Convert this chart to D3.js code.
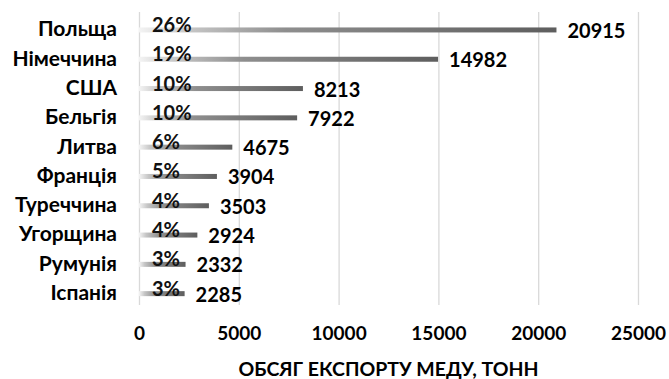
<!DOCTYPE html>
<html>
<head>
<meta charset="utf-8">
<script src="https://cdn.jsdelivr.net/npm/d3@7"></script>
<style>
  body { margin: 0; background: #fff; }
  text { font-family: Lato, "Open Sans", sans-serif; font-weight: bold; }
</style>
</head>
<body>
<svg width="669" height="379"></svg>
<script>
// data
const countries = ["Польща", "Німеччина", "США", "Бельгія", "Литва", "Франція", "Туреччина", "Угорщина", "Румунія", "Іспанія"];
const tonnes = [20915, 14982, 8213, 7922, 4675, 3904, 3503, 2924, 2332, 2285];
const shares = ["26%", "19%", "10%", "10%", "6%", "5%", "4%", "4%", "3%", "3%"];
const xTicks = [0, 5000, 10000, 15000, 20000, 25000];

const rows = countries.map(function(c, i) {
  return {name: c, value: tonnes[i], share: shares[i]};
});

const svg = d3.select('svg');

const x = d3.scaleLinear()
  .domain([0, 25000])
  .range([139, 638]);

const y = d3.scaleBand()
  .domain(countries)
  .range([15.3, 308.3]);

// bar gradient: light at the base, darker toward the end
const grad = svg.append('defs').append('linearGradient')
  .attr('id', 'barGrad')
  .attr('x1', '0%').attr('x2', '100%')
  .attr('y1', '0%').attr('y2', '0%');
grad.append('stop').attr('offset', '0%').attr('stop-color', '#f4f4f4');
grad.append('stop').attr('offset', '12%').attr('stop-color', '#c6c6c6');
grad.append('stop').attr('offset', '35%').attr('stop-color', '#8e8e8e');
grad.append('stop').attr('offset', '100%').attr('stop-color', '#5e5e5e');

// gridlines + tick labels
const xAxis = svg.append('g')
  .attr('transform', 'translate(0,305)')
  .call(d3.axisBottom(x).tickValues(xTicks).tickSize(-293).tickPadding(22).tickFormat(d3.format('d')));
xAxis.select('.domain').remove();
xAxis.selectAll('.tick line').attr('stroke', '#d9d9d9').attr('stroke-width', 1.3);
xAxis.selectAll('.tick text')
  .attr('fill', '#000')
  .style('font-size', '19px')
  .style('font-family', 'Lato, sans-serif')
  .style('font-weight', 'bold');

// bars
svg.selectAll('rect.bar')
  .data(rows)
  .enter().append('rect')
  .classed('bar', true)
  .attr('x', x(0))
  .attr('y', function(d) { return y(d.name) + y.bandwidth() / 2 - 2.5; })
  .attr('width', function(d) { return x(d.value) - x(0); })
  .attr('height', 5)
  .attr('fill', 'url(#barGrad)');

// category labels
svg.selectAll('text.cat')
  .data(rows)
  .enter().append('text')
  .classed('cat', true)
  .attr('x', 117)
  .attr('y', function(d) { return y(d.name) + y.bandwidth() / 2 - 1; })
  .attr('dy', '0.35em')
  .attr('text-anchor', 'end')
  .style('font-size', '21px')
  .attr('fill', '#000')
  .text(function(d) { return d.name; });

// share labels sitting on the bar
svg.selectAll('text.share')
  .data(rows)
  .enter().append('text')
  .classed('share', true)
  .attr('x', 152)
  .attr('y', function(d) { return y(d.name) + y.bandwidth() / 2 + 2; })
  .style('font-size', '20px')
  .attr('fill', '#111')
  .text(function(d) { return d.share; });

// value labels after the bar end
svg.selectAll('text.val')
  .data(rows)
  .enter().append('text')
  .classed('val', true)
  .attr('x', function(d) { return x(d.value) + 11; })
  .attr('y', function(d) { return y(d.name) + y.bandwidth() / 2 + 1; })
  .attr('dy', '0.35em')
  .style('font-size', '20px')
  .attr('fill', '#000')
  .text(function(d) { return d.value; });

// axis title
svg.append('text')
  .attr('x', (x(0) + x(25000)) / 2)
  .attr('y', 369)
  .attr('dy', '0.35em')
  .attr('text-anchor', 'middle')
  .style('font-size', '19.5px')
  .attr('fill', '#000')
  .text('ОБСЯГ ЕКСПОРТУ МЕДУ, ТОНН');
</script>
</body>
</html>
